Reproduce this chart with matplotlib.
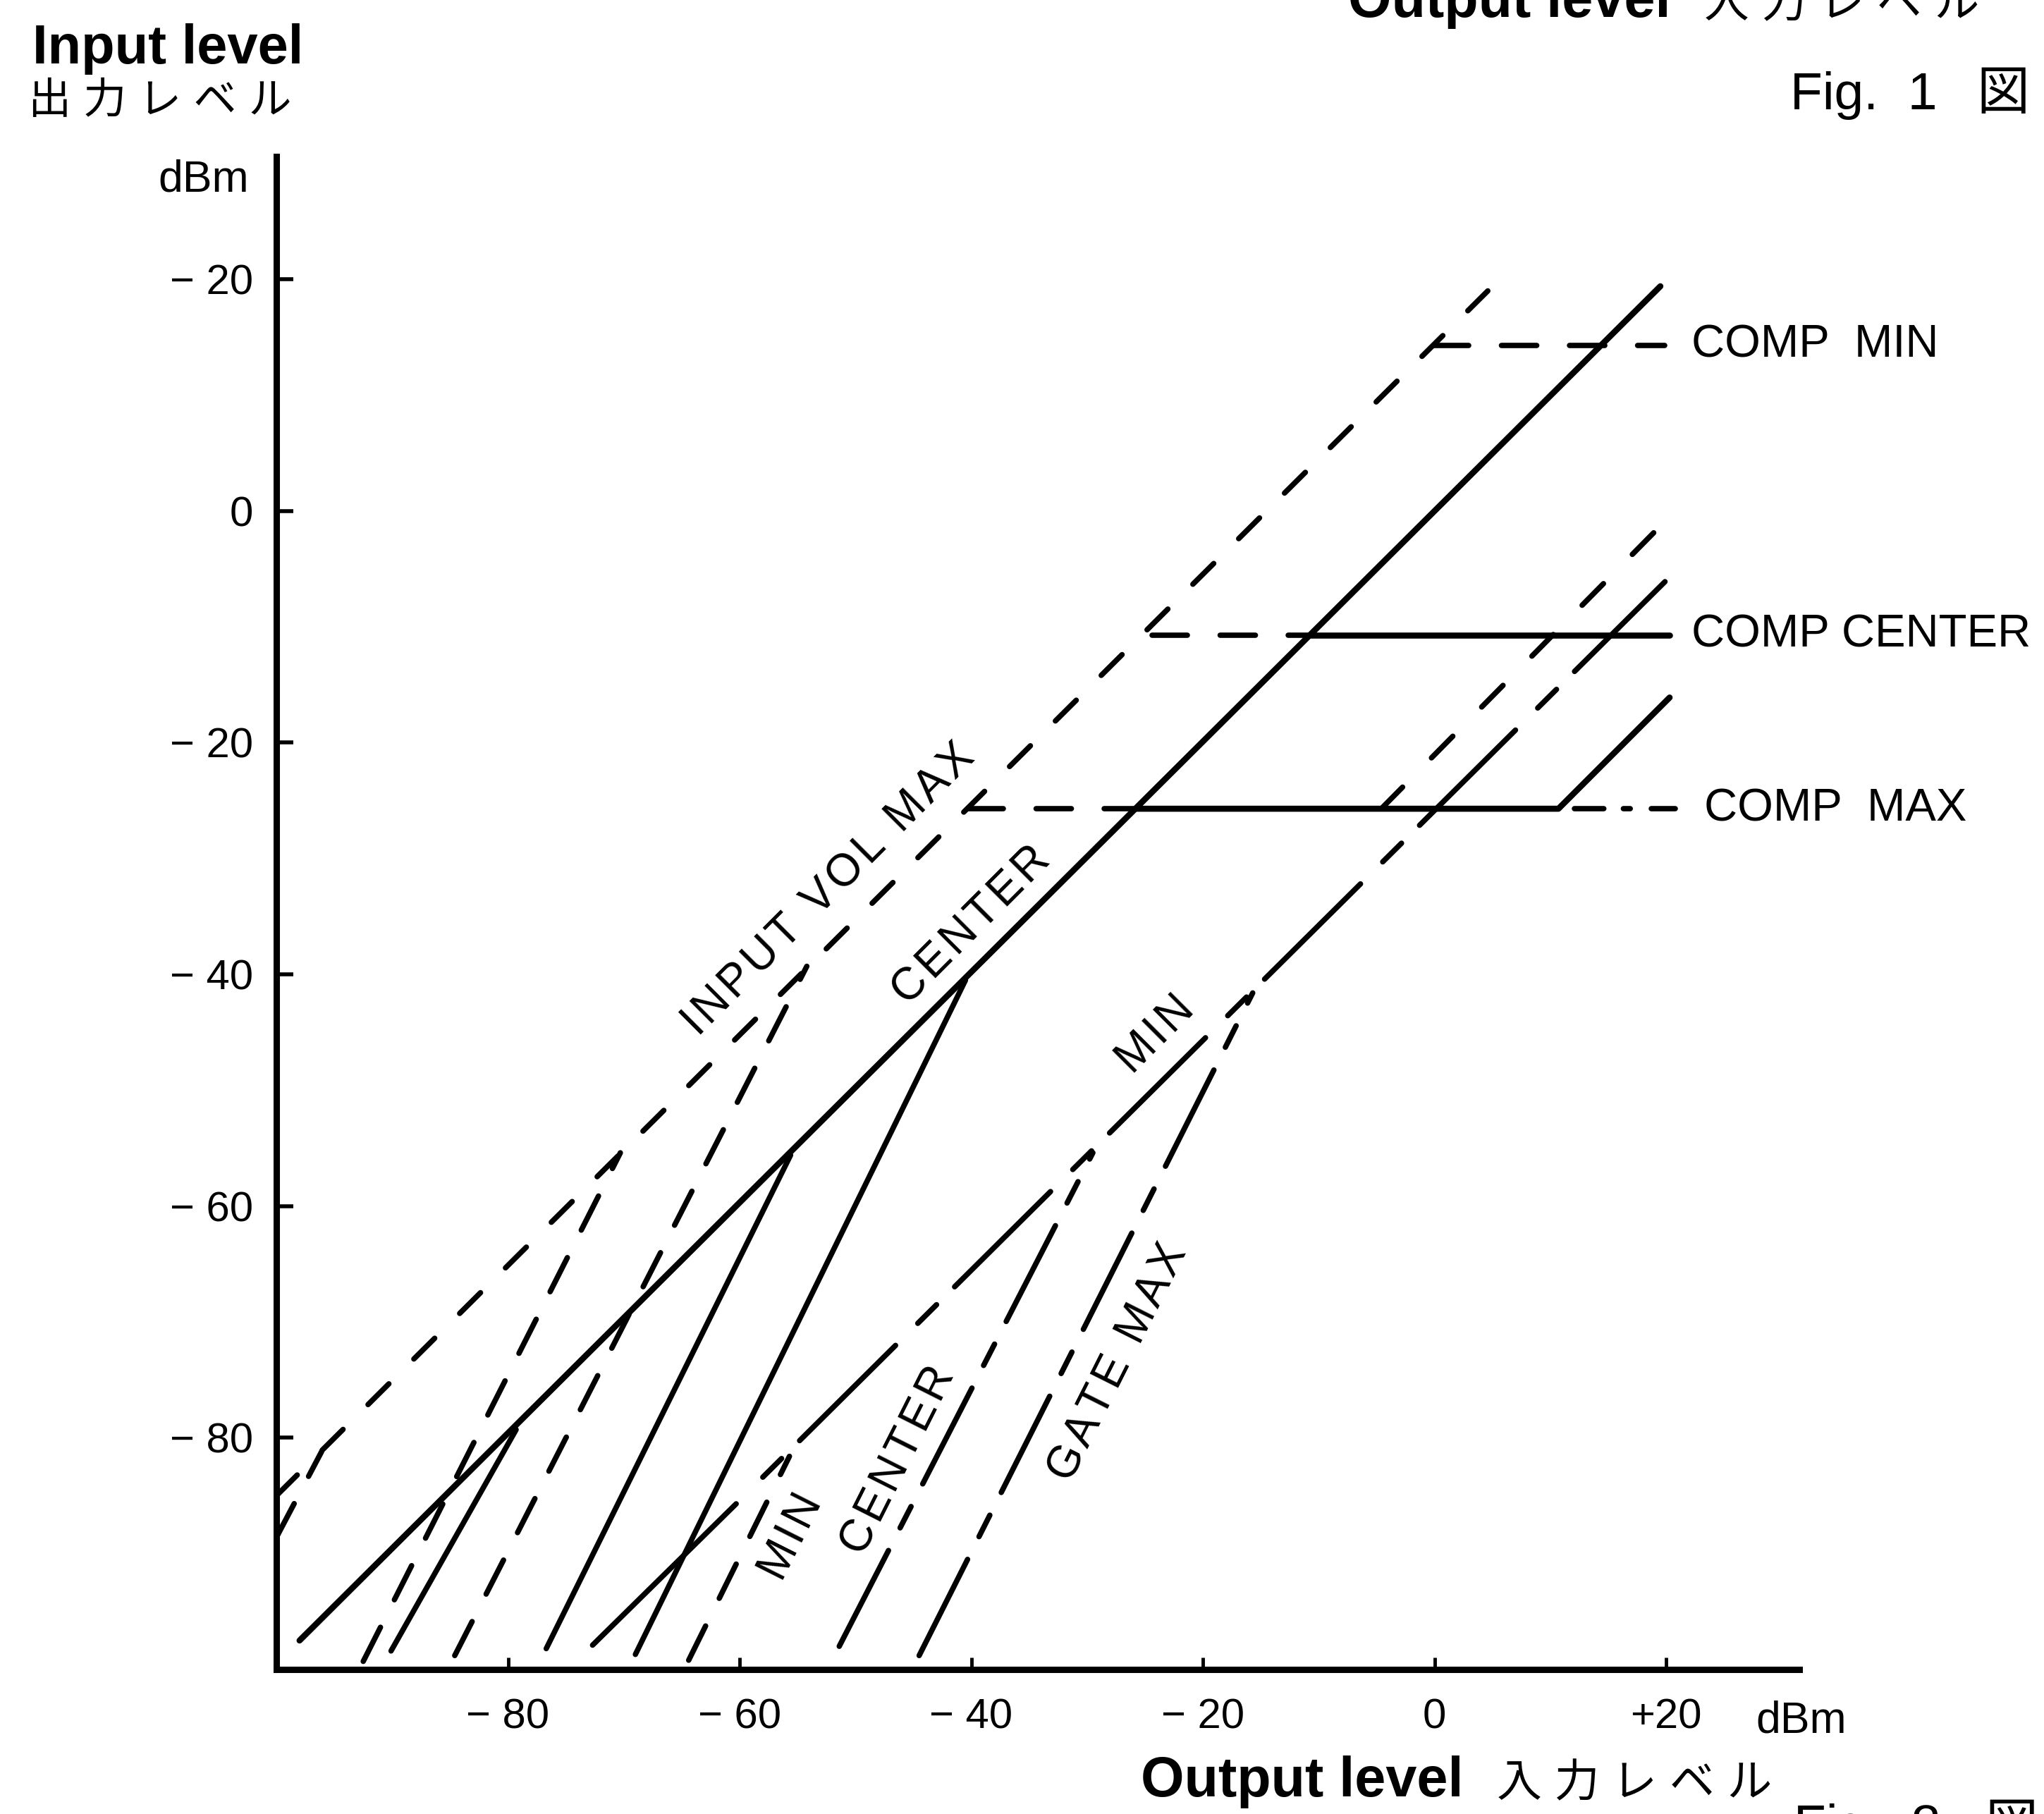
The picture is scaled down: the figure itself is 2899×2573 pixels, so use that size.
import matplotlib
matplotlib.use("Agg")
import matplotlib.pyplot as plt

plt.rcParams['font.family'] = ['Liberation Sans', 'Noto Sans CJK JP', 'DejaVu Sans']
plt.rcParams['lines.scale_dashes'] = False

# ---- values (dBm) ----
yticks = [20, 0, -20, -40, -60, -80]
ytick_labels = ['− 20', '0', '− 20', '− 40', '− 60', '− 80']
xticks = [-80, -60, -40, -20, 0, 20]
xtick_labels = ['− 80', '− 60', '− 40', '− 20', '0', '+20']

# unity lines
center_x = [-98.0, 19.5]
center_y = [-97.5, 19.4]
volmax_x = [-100.0, 4.6]
volmax_y = [-85.0, 19.0]
min_low_x = [-72.7, -60.3]
min_low_y = [-97.9, -85.7]
min_x = [-58.0, 19.9]
min_y = [-83.4, -6.1]
side_x = [-4.6, 19.0]
side_y = [-25.7, -1.8]

# expander / gate lines
exp_center_x = [[-90.1, -79.3], [-76.7, -55.6], [-69.0, -40.5]]
exp_center_y = [[-98.4, -79.3], [-98.2, -55.6], [-98.7, -40.5]]
exp_volmax_x = [[-100.0, -96.1], [-92.5, -70.3], [-84.6, -54.2]]
exp_volmax_y = [[-88.6, -81.2], [-99.3, -55.4], [-98.8, -39.3]]
gate_min_x = [-64.4, -55.7]
gate_min_y = [-99.2, -81.6]
gate_center_x = [-51.4, -29.5]
gate_center_y = [-98.0, -55.4]
gate_max_x = [-44.5, -15.7]
gate_max_y = [-98.8, -41.6]

# compressor thresholds
comp_min = 14.3
comp_center = -10.7
comp_max = -25.7
comp_min_x = [-0.1, 19.9]
comp_center_dash_x = [-24.4, -10.7]
comp_center_x = [-10.7, 20.3]
comp_max_dash_x = [-40.3, -25.7]
comp_max_x = [-25.7, 10.7, 20.3]
comp_max_y = [-25.7, -25.7, -16.1]
comp_max_tail_x = [12.1, 20.8]

W, H = 2899, 2573
fig = plt.figure(figsize=(W / 100, H / 100), dpi=100)
ax = fig.add_axes([392 / W, 1 - 2368 / H, 2160 / W, 2146 / H])
ax.set_xlim(-100, 31.5)
ax.set_ylim(-100, 30.6)
for s in ['top', 'right']:
    ax.spines[s].set_visible(False)
for s in ['left', 'bottom']:
    ax.spines[s].set_linewidth(6.5)
    ax.spines[s].set_capstyle('projecting')

ax.set_yticks(yticks, ytick_labels, fontsize=43)
ax.set_xticks(xticks, xtick_labels, fontsize=43)
ax.tick_params(axis='y', direction='in', length=17, width=4, pad=24)
ax.tick_params(axis='x', direction='in', length=12, width=3.5, pad=29)

LW = 5.5
solid = dict(color='black', lw=6.2, solid_capstyle='round', solid_joinstyle='round')
thin = dict(color='black', lw=LW, solid_capstyle='round', solid_joinstyle='round')
dash_diag = dict(color='black', lw=LW, ls=(0, (30, 36)), dash_capstyle='round')
dash_steep = dict(color='black', lw=LW, ls=(0, (39, 31.5)), dash_capstyle='round')
dash_horz = dict(color='black', lw=LW, ls=(0, (36, 33.5)), dash_capstyle='round')
dash_side = dict(color='black', lw=LW, ls=(0, (31, 42)), dash_capstyle='round')
dashdot = dict(color='black', lw=LW, ls=(0, (110, 26, 24.5, 26)), dash_capstyle='round')
longdash = dict(color='black', lw=LW, ls=(0, (27, 26, 138, 32)), dash_capstyle='round')
tail = dict(color='black', lw=LW, ls=(0, (30, 20, 7, 21.5)), dash_capstyle='round')

# centre input level
ax.plot(center_x, center_y, **solid)
for xs, ys in zip(exp_center_x, exp_center_y):
    ax.plot(xs, ys, **thin)

# input vol max
ax.plot(volmax_x, volmax_y, **dash_diag)
for xs, ys in zip(exp_volmax_x, exp_volmax_y):
    ax.plot(xs, ys, **dash_steep)

# input vol min
ax.plot(min_low_x, min_low_y, **thin)
ax.plot(min_x, min_y, **longdash)
ax.plot(side_x, side_y, **dash_side)
ax.plot(gate_min_x, gate_min_y, **dash_steep)
ax.plot(gate_center_x, gate_center_y, **dashdot)
ax.plot(gate_max_x, gate_max_y, **dashdot)

# compressor
ax.plot(comp_min_x, [comp_min] * 2, **dash_horz)
ax.plot(comp_center_dash_x, [comp_center] * 2, **dash_horz)
ax.plot(comp_center_x, [comp_center] * 2, **solid)
ax.plot(comp_max_dash_x, [comp_max] * 2, **dash_horz)
ax.plot(comp_max_x, comp_max_y, **solid)
ax.plot(comp_max_tail_x, [comp_max] * 2, **tail)

# labels on the curves (letter-spaced like the original lettering)
def spaced(s):
    return '\u200a'.join(s)

lab = dict(fontsize=46, ha='center', va='center', rotation_mode='anchor')
ax.text(-52.3, -32.7, spaced('INPUT VOL MAX'), rotation=45, **lab)
ax.text(-40.0, -35.8, spaced('CENTER'), rotation=45, **lab)
ax.text(-24.1, -45.2, spaced('MIN'), rotation=45, **lab)
ax.text(-55.5, -88.6, spaced('MIN'), rotation=63.3, **lab)
ax.text(-46.3, -82.0, spaced('CENTER'), rotation=63.3, **lab)
ax.text(-27.3, -73.5, spaced('GATE MAX'), rotation=63.3, **lab)

ax.text(22.2, comp_min, 'COMP  MIN', fontsize=47, va='center', ha='left')
ax.text(22.2, comp_center, 'COMP CENTER', fontsize=47, va='center', ha='left')
ax.text(23.3, comp_max, 'COMP  MAX', fontsize=47, va='center', ha='left')

# titles and units (figure pixel positions)
def ftext(x, y, s, **kw):
    fig.text(x / W, 1 - y / H, s, **kw)

ftext(46, 90, 'Input level', fontsize=56, fontweight='bold', va='baseline')
ftext(40, 145, '出 力 レ ベ ル', fontsize=44, va='center')
ftext(353, 272, 'dBm', fontsize=45, ha='right', va='baseline')
ftext(2490, 2457, 'dBm', fontsize=45, va='baseline')

ftext(1618, 2548, 'Output level', fontsize=57, fontweight='bold', va='baseline')
ftext(2123, 2548, '入 力 レ ベ ル', fontsize=46, va='baseline')
ftext(1912, 24, 'Output level', fontsize=57, fontweight='bold', va='baseline')
ftext(2417, 24, '入 力 レ ベ ル', fontsize=46, va='baseline')

ftext(2539, 155, 'Fig.  1', fontsize=54, va='baseline')
ftext(2803, 155, '図', fontsize=54, va='baseline')
ftext(2544, 2612, 'Fig.  2', fontsize=54, va='baseline')
ftext(2815, 2612, '図', fontsize=54, va='baseline')

fig.savefig('out.png', dpi=100, facecolor='white')
